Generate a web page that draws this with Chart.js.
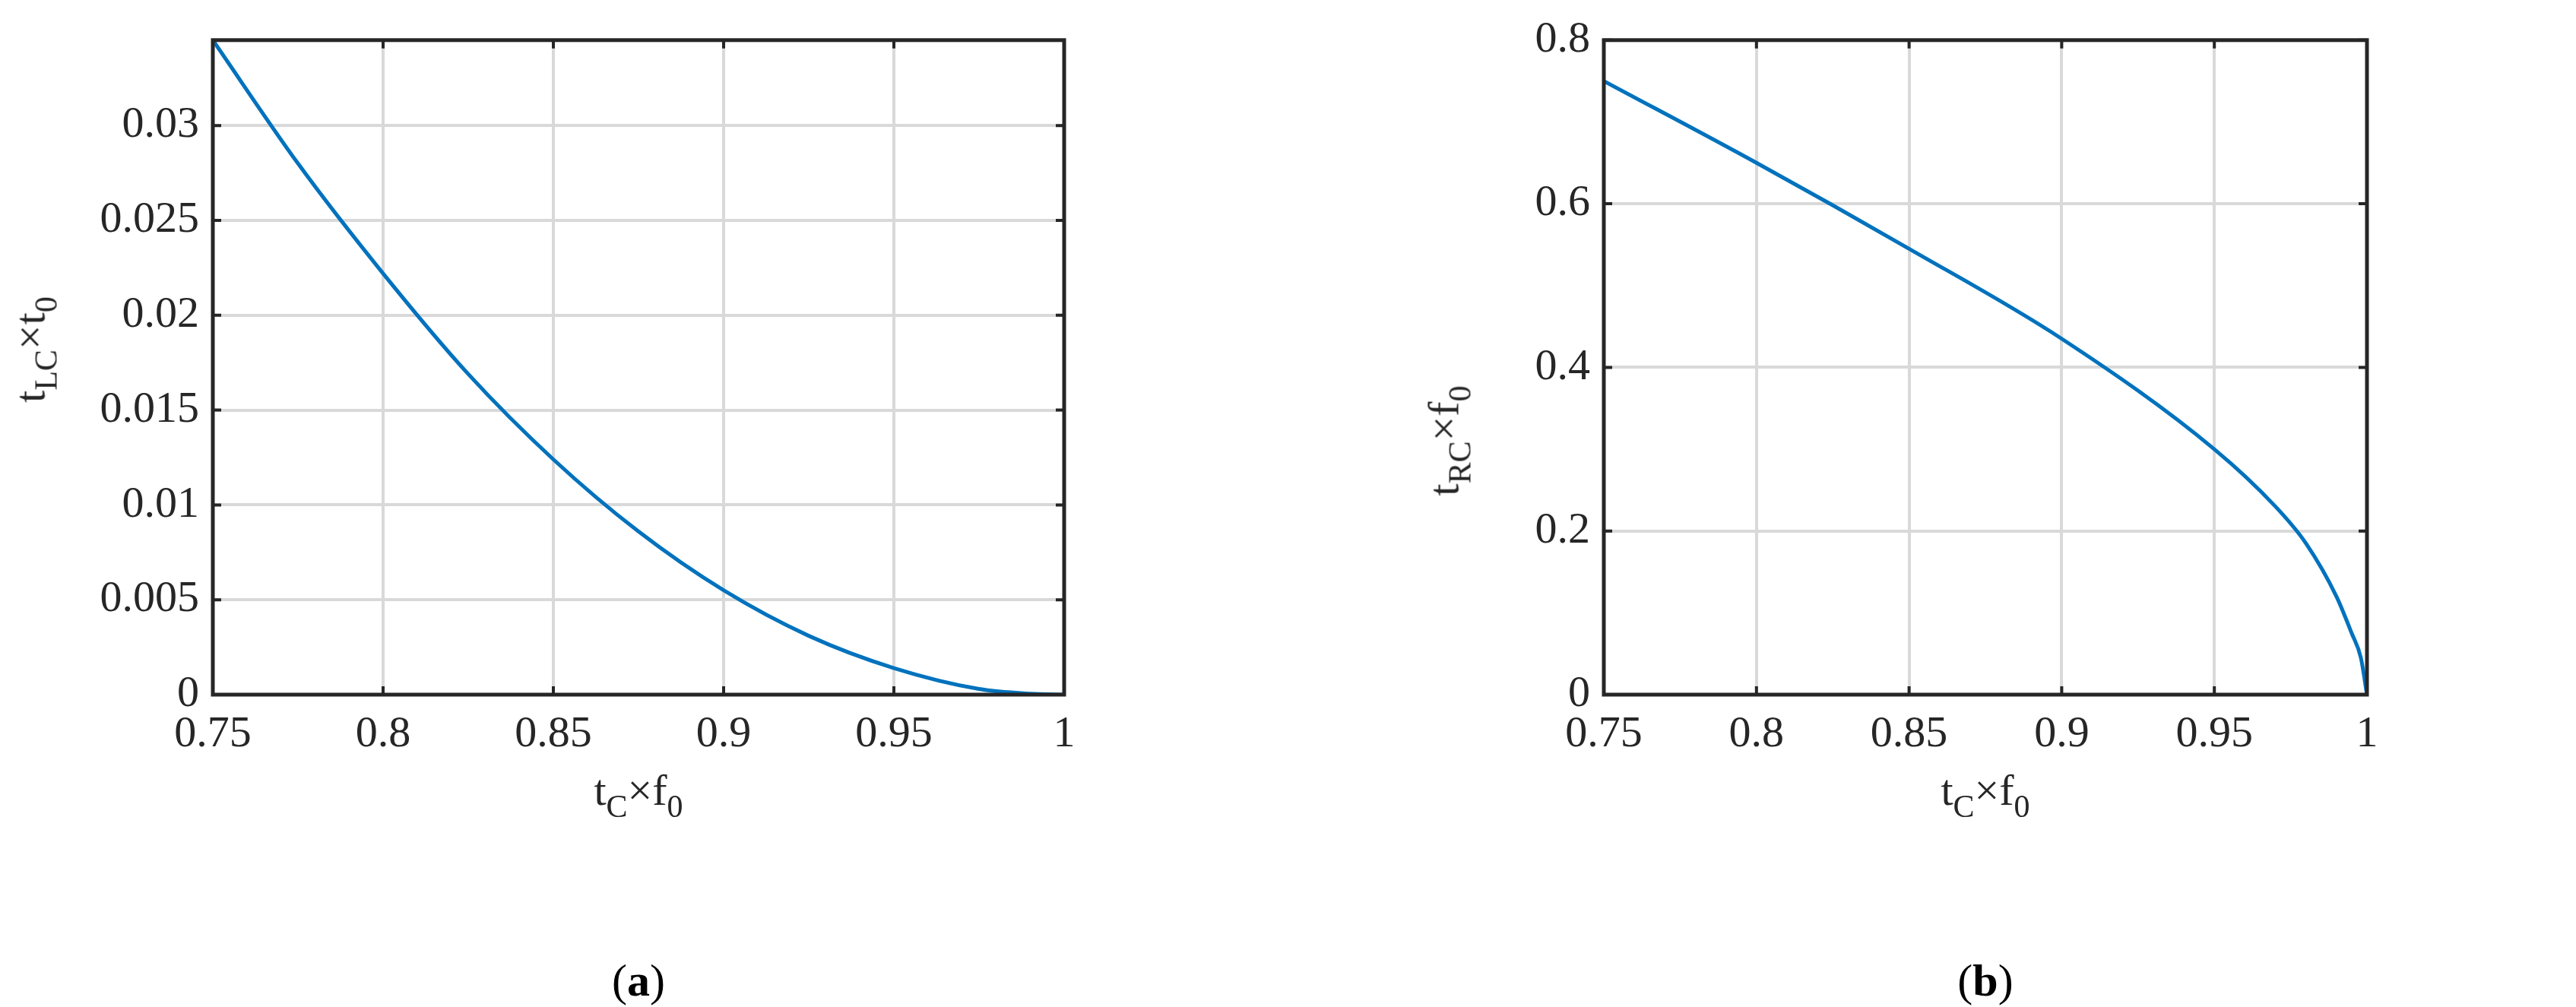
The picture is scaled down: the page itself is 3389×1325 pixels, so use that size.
<!DOCTYPE html>
<html><head>
<script src="https://cdn.jsdelivr.net/npm/chart.js@4"></script>
<style>
body{margin:0;width:3389px;height:1325px;background:#fff;position:relative;overflow:hidden;font-family:"Liberation Serif",serif;color:#262626}
.wrap{position:absolute;top:0;height:1325px}
.lbl{position:absolute;font-size:58px;white-space:nowrap;transform:translate(-50%,-50%)}
.rot{transform:translate(-50%,-50%) rotate(-90deg)}
sub{font-size:42px;vertical-align:-16px}
.cap{position:absolute;font-size:60px;color:#000;transform:translate(-50%,-50%)}
</style></head><body>
<div class="wrap" style="left:0;width:1690px"><canvas id="ca"></canvas></div>
<div class="wrap" style="left:1690px;width:1699px"><canvas id="cb"></canvas></div>
<div class="lbl" style="left:840px;top:1045px">t<sub>C</sub>×f<sub>0</sub></div>
<div class="lbl rot" style="left:45px;top:460px">t<sub>LC</sub>×t<sub>0</sub></div>
<div class="lbl" style="left:2612px;top:1045px">t<sub>C</sub>×f<sub>0</sub></div>
<div class="lbl rot" style="left:1905px;top:580px">t<sub>RC</sub>×f<sub>0</sub></div>
<div class="cap" style="left:840px;top:1290px">(<b>a</b>)</div>
<div class="cap" style="left:2612px;top:1290px">(<b>b</b>)</div>
<script>
const xA = [0.75, 0.775, 0.8, 0.825, 0.85, 0.875, 0.9, 0.925, 0.95, 0.975, 0.99, 1];
const tLC = [0.0345, 0.028, 0.0222, 0.0169, 0.0124, 0.0086, 0.0055, 0.0031, 0.0014, 0.0003, 0.00005, 0];
const xB = [0.75, 0.8, 0.85, 0.9, 0.95, 0.97, 0.98, 0.99, 0.995, 0.998, 1];
const tRC = [0.75, 0.65, 0.545, 0.435, 0.30, 0.23, 0.185, 0.12, 0.075, 0.045, 0];
const xTicks = [0.75, 0.8, 0.85, 0.9, 0.95, 1];
const yTicksA = [0, 0.005, 0.01, 0.015, 0.02, 0.025, 0.03];
const yTicksB = [0, 0.2, 0.4, 0.6, 0.8];

const frame = {
  id: 'frame',
  afterDraw(c) {
    const a = c.chartArea, g = c.ctx;
    g.save(); g.strokeStyle = '#262626'; g.lineWidth = 5;
    g.strokeRect(a.left, a.top, a.right - a.left, a.bottom - a.top);
    g.lineWidth = 4;
    c.scales.y.ticks.forEach(t => {
      const y = c.scales.y.getPixelForValue(t.value);
      g.beginPath(); g.moveTo(a.left, y); g.lineTo(a.left + 11, y);
      g.moveTo(a.right, y); g.lineTo(a.right - 11, y); g.stroke();
    });
    c.scales.x.ticks.forEach(t => {
      const x = c.scales.x.getPixelForValue(t.value);
      g.beginPath(); g.moveTo(x, a.bottom); g.lineTo(x, a.bottom - 11);
      g.moveTo(x, a.top); g.lineTo(x, a.top + 11); g.stroke();
    });
    g.restore();
  }
};

function makeChart(id, xs, ys, yMax, yTicks, leftW, rightPad) {
  const font = { family: 'Liberation Serif', size: 58 };
  return new Chart(document.getElementById(id), {
    type: 'scatter',
    data: { datasets: [{ data: xs.map((x, i) => ({ x: x, y: ys[i] })), showLine: true,
      borderColor: '#0072BD', borderWidth: 5, pointRadius: 0, cubicInterpolationMode: 'monotone' }] },
    options: {
      responsive: false, animation: false, devicePixelRatio: 1,
      layout: { padding: { top: 36, right: rightPad, bottom: 1325 - 914 - 80, left: 0 } },
      plugins: { legend: { display: false }, tooltip: { enabled: false } },
      scales: {
        x: { type: 'linear', min: 0.75, max: 1,
          afterBuildTicks: s => { s.ticks = xTicks.map(v => ({ value: v })); },
          afterFit: s => { s.height = 80; },
          grid: { color: '#d9d9d9', lineWidth: 4, drawTicks: false },
          border: { display: false },
          ticks: { font: font, color: '#262626', padding: 18, maxRotation: 0, callback: v => String(+v.toFixed(3)) } },
        y: { min: 0, max: yMax,
          afterBuildTicks: s => { s.ticks = yTicks.map(v => ({ value: v })); },
          afterFit: s => { s.width = leftW; },
          grid: { color: '#d9d9d9', lineWidth: 4, drawTicks: false },
          border: { display: false },
          ticks: { font: font, color: '#262626', padding: 18, callback: v => String(+v.toFixed(4)) } }
      }
    },
    plugins: [frame]
  });
}

const ca = document.getElementById('ca'); ca.width = 1690; ca.height = 1325;
const cb = document.getElementById('cb'); cb.width = 1699; cb.height = 1325;
makeChart('ca', xA, tLC, 0.0345, yTicksA, 280, 290);
makeChart('cb', xB, tRC, 0.8, yTicksB, 420, 275);
</script>
</body></html>
